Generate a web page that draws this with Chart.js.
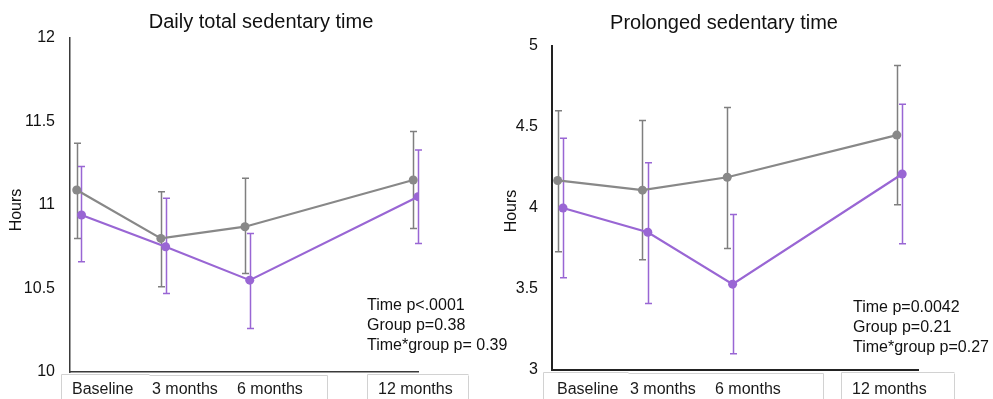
<!DOCTYPE html>
<html><head><meta charset="utf-8">
<script src="https://cdn.jsdelivr.net/npm/chart.js@4.4.1/dist/chart.umd.min.js"></script>
<style>
html,body{margin:0;padding:0;background:#fff;width:993px;height:399px;overflow:hidden}
canvas{position:absolute;left:0;top:0}
</style></head><body>
<canvas id="left" width="993" height="399"></canvas>
<canvas id="right" width="993" height="399"></canvas>
<script>
// ---- data ----
const timepoints = [0, 3, 6, 12];
const tickLabels = ['Baseline', '3 months', '6 months', '12 months'];
const yAxisLabel = 'Hours';

const totalTitle = 'Daily total sedentary time';
const totalYTicks = [10, 10.5, 11, 11.5, 12];
const totalGrayMean = [11.09, 10.80, 10.87, 11.15];
const totalGrayLow = [10.80, 10.51, 10.59, 10.86];
const totalGrayHigh = [11.37, 11.08, 11.16, 11.44];
const totalPurpleMean = [10.94, 10.75, 10.55, 11.05];
const totalPurpleLow = [10.66, 10.47, 10.26, 10.77];
const totalPurpleHigh = [11.23, 11.04, 10.83, 11.33];
const totalStats = ['Time p<.0001', 'Group p=0.38', 'Time*group p= 0.39'];

const prolongedTitle = 'Prolonged sedentary time';
const prolongedYTicks = [3, 3.5, 4, 4.5, 5];
const prolongedGrayMean = [4.17, 4.11, 4.19, 4.45];
const prolongedGrayLow = [3.73, 3.68, 3.75, 4.02];
const prolongedGrayHigh = [4.60, 4.54, 4.62, 4.88];
const prolongedPurpleMean = [4.00, 3.85, 3.53, 4.21];
const prolongedPurpleLow = [3.57, 3.41, 3.10, 3.78];
const prolongedPurpleHigh = [4.43, 4.28, 3.96, 4.64];
const prolongedStats = ['Time p=0.0042', 'Group p=0.21', 'Time*group p=0.27'];

// ---- styles ----
const GRAY = '#888888';
const GRAY_BAR = '#7f7f7f';
const PURPLE = '#9966d4';
const FONT = '"Liberation Sans", Arial, sans-serif';
Chart.defaults.font.family = FONT;
Chart.defaults.font.size = 16;
Chart.defaults.color = '#222';

const panels = {};

const deco = {
  id: 'deco',
  beforeDatasetsDraw(chart) {
    const p = panels[chart.canvas.id];
    const ctx = chart.ctx, xs = chart.scales.x, ys = chart.scales.y;
    p.bars.forEach(b => {
      ctx.save();
      ctx.strokeStyle = b.color; ctx.lineWidth = 1.5;
      b.x.forEach((xv, i) => {
        const px = Math.round(xs.getPixelForValue(xv)) + 0.5;
        const lo = ys.getPixelForValue(b.low[i]);
        const hi = ys.getPixelForValue(b.high[i]);
        ctx.beginPath();
        ctx.moveTo(px, lo); ctx.lineTo(px, hi);
        ctx.moveTo(px - 3.5, hi); ctx.lineTo(px + 3.5, hi);
        ctx.moveTo(px - 3.5, lo); ctx.lineTo(px + 3.5, lo);
        ctx.stroke();
      });
      ctx.restore();
    });
  },
  afterDraw(chart) {
    const p = panels[chart.canvas.id];
    const ctx = chart.ctx;
    ctx.save();
    // title
    ctx.fillStyle = '#111';
    ctx.font = '20px ' + FONT;
    ctx.textAlign = 'center'; ctx.textBaseline = 'alphabetic';
    ctx.fillText(p.title, p.titleX, p.titleY);
    // y axis title
    ctx.save();
    ctx.translate(p.yTitleX, p.yTitleY);
    ctx.rotate(-Math.PI / 2);
    ctx.font = '16px ' + FONT;
    ctx.textAlign = 'center'; ctx.textBaseline = 'middle';
    ctx.fillText(yAxisLabel, 0, 0);
    ctx.restore();
    // stats
    ctx.font = '16px ' + FONT;
    ctx.textAlign = 'left'; ctx.textBaseline = 'alphabetic';
    p.stats.forEach((s, i) => ctx.fillText(s, p.statsX, p.statsY + i * 20));
    // label cells (table-like boxes under the axis)
    ctx.strokeStyle = '#d2d2d2'; ctx.lineWidth = 1;
    p.cells.forEach(c => {
      // c = [left, stepX, right, top]
      const [l, s, r, t] = c;
      ctx.beginPath();
      ctx.moveTo(l + 0.5, 400); ctx.lineTo(l + 0.5, t + 0.5); ctx.lineTo(s + 0.5, t + 0.5);
      ctx.moveTo(s + 0.5, t + 1.5); ctx.lineTo(r + 0.5, t + 1.5); ctx.lineTo(r + 0.5, 400);
      ctx.stroke();
    });
    ctx.fillStyle = '#1a1a1a';
    tickLabels.forEach((t, i) => ctx.fillText(t, p.labelX[i], 394));
    ctx.restore();
  }
};

function makeChart(id, cfg) {
  panels[id] = cfg;
  new Chart(document.getElementById(id), {
    type: 'line',
    data: {
      datasets: [
        {
          data: timepoints.map((t, i) => ({x: t, y: cfg.grayMean[i]})),
          borderColor: GRAY, backgroundColor: GRAY, pointBackgroundColor: GRAY,
          borderWidth: 2.2, pointRadius: 4.5, pointBorderWidth: 0, order: 1
        },
        {
          data: timepoints.map((t, i) => ({x: t + cfg.dodge, y: cfg.purpleMean[i]})),
          borderColor: PURPLE, backgroundColor: PURPLE, pointBackgroundColor: PURPLE,
          borderWidth: 2.2, pointRadius: 4.5, pointBorderWidth: 0, order: 0
        }
      ]
    },
    options: {
      responsive: false, animation: false,
      layout: {padding: cfg.padding},
      plugins: {legend: {display: false}, tooltip: {enabled: false}, title: {display: false}},
      scales: {
        x: {
          type: 'linear', min: cfg.xMin, max: cfg.xMax,
          grid: {display: false},
          border: {display: true, color: cfg.axisColor, width: cfg.axisWidth},
          ticks: {display: false},
          afterFit: s => { s.height = cfg.xHeight; }
        },
        y: {
          type: 'linear', min: cfg.yTicks[0], max: cfg.yTicks[cfg.yTicks.length - 1],
          grid: {display: false, drawTicks: false},
          border: {display: true, color: cfg.axisColor, width: cfg.axisWidth},
          ticks: {padding: cfg.tickPad, color: '#111', font: {size: 16}, callback: v => String(v)},
          afterBuildTicks: s => { s.ticks = cfg.yTicks.map(v => ({value: v})); },
          afterFit: s => { s.width = cfg.yWidth; }
        }
      }
    },
    plugins: [deco]
  });
}

makeChart('left', {
  title: totalTitle, titleX: 261, titleY: 28,
  yTitleX: 17, yTitleY: 210,
  stats: totalStats, statsX: 367, statsY: 310,
  cells: [[61, 149, 327, 374], [367, 468, 468, 374]],
  labelX: [72, 152, 237, 378],
  grayMean: totalGrayMean, purpleMean: totalPurpleMean,
  bars: [
    {x: timepoints, low: totalGrayLow, high: totalGrayHigh, color: GRAY_BAR},
    {x: timepoints.map(t => t + 0.17), low: totalPurpleLow, high: totalPurpleHigh, color: PURPLE}
  ],
  dodge: 0.17, xMin: -0.24, xMax: 12.17,
  yTicks: totalYTicks,
  padding: {left: 0, right: 575, top: 38, bottom: 0},
  yWidth: 70, xHeight: 27, tickPad: 15,
  axisColor: '#3a3a3a', axisWidth: 1.5
});

makeChart('right', {
  title: prolongedTitle, titleX: 724, titleY: 29,
  yTitleX: 512, yTitleY: 211,
  stats: prolongedStats, statsX: 853, statsY: 312,
  cells: [[543, 628, 823, 372], [841, 954, 954, 372]],
  labelX: [557, 630, 715, 852],
  grayMean: prolongedGrayMean, purpleMean: prolongedPurpleMean,
  bars: [
    {x: timepoints, low: prolongedGrayLow, high: prolongedGrayHigh, color: GRAY_BAR},
    {x: timepoints.map(t => t + 0.19), low: prolongedPurpleLow, high: prolongedPurpleHigh, color: PURPLE}
  ],
  dodge: 0.19, xMin: -0.2, xMax: 12.75,
  yTicks: prolongedYTicks,
  padding: {left: 492, right: 75, top: 46, bottom: 0},
  yWidth: 60, xHeight: 29, tickPad: 14,
  axisColor: '#222', axisWidth: 2
});
</script>
</body></html>
